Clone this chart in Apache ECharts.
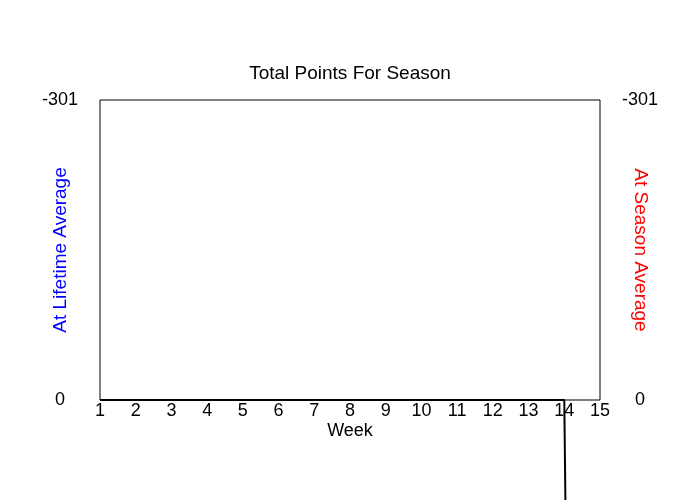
<!DOCTYPE html>
<html>
<head>
<meta charset="utf-8">
<script src="https://cdn.jsdelivr.net/npm/echarts@6/dist/echarts.min.js"></script>
<style>html,body{margin:0;padding:0;background:#fff;}#c{width:700px;height:500px;}</style>
</head>
<body>
<div id="c"></div>
<script>
var weeks = [1,2,3,4,5,6,7,8,9,10,11,12,13,14,15];
var totalPoints = [0,0,0,0,0,0,0,0,0,0,0,0,0,0,3200];
var yTicks = [-301, 0];

var chart = echarts.init(document.getElementById('c'));
var font = 'Liberation Sans, Arial, sans-serif';
chart.setOption({
  animation: false,
  backgroundColor: '#fff',
  title: {
    text: 'Total Points For Season', left: 'center', top: 59,
    textStyle: { fontFamily: font, fontSize: 19, fontWeight: 'normal', color: '#000' }
  },
  grid: { left: 100, right: 100, top: 100, bottom: 100, show: true, borderColor: '#000', borderWidth: 1, backgroundColor: 'transparent' },
  xAxis: {
    type: 'value', min: weeks[0], max: weeks[weeks.length-1], interval: 1,
    name: 'Week', nameLocation: 'middle', nameGap: 22, nameMoveOverlap: false,
    nameTextStyle: { fontFamily: font, fontSize: 18, color: '#000' },
    axisLine: { show: false }, axisTick: { show: false }, splitLine: { show: false },
    axisLabel: { margin: 2, fontFamily: font, fontSize: 18, color: '#000' }
  },
  yAxis: [{
    type: 'value', inverse: true, min: yTicks[0], max: yTicks[1], interval: 301,
    position: 'left',
    name: 'At Lifetime Average', nameLocation: 'middle', nameGap: 30, nameRotate: 90, nameMoveOverlap: false,
    nameTextStyle: { fontFamily: font, fontSize: 19, color: '#0000ff' },
    axisLine: { show: false }, axisTick: { show: false }, splitLine: { show: false },
    axisLabel: { margin: 40, align: 'center', fontFamily: font, fontSize: 18, color: '#000' }
  }, {
    type: 'value', inverse: true, min: yTicks[0], max: yTicks[1], interval: 301,
    position: 'right',
    name: 'At Season Average', nameLocation: 'middle', nameGap: 31, nameRotate: -90, nameMoveOverlap: false,
    nameTextStyle: { fontFamily: font, fontSize: 19, color: '#ff0000' },
    axisLine: { show: false }, axisTick: { show: false }, splitLine: { show: false },
    axisLabel: { margin: 40, align: 'center', fontFamily: font, fontSize: 18, color: '#000' }
  }],
  series: [{
    type: 'line', clip: false, showSymbol: false, symbol: 'none',
    data: weeks.map(function (w, i) { return [w, totalPoints[i]]; }),
    lineStyle: { color: '#000', width: 2 }
  }]
});
</script>
</body>
</html>
